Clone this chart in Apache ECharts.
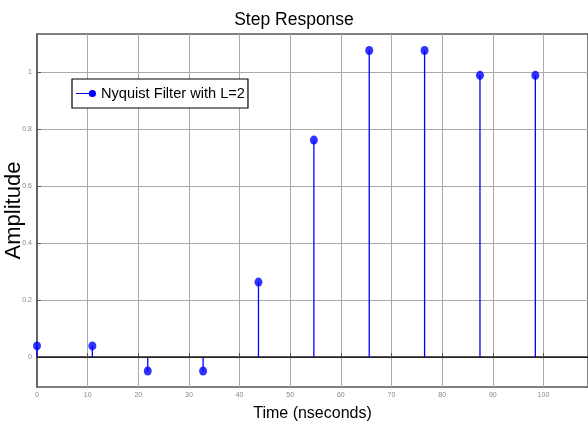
<!DOCTYPE html>
<html><head><meta charset="utf-8">
<script src="https://cdn.jsdelivr.net/npm/echarts@6/dist/echarts.min.js"></script>
<style>html,body{margin:0;padding:0;background:#fff}#c{width:588px;height:427px}</style>
</head><body><div id="c"></div>
<script>
const timeNs = [0, 10.93, 21.87, 32.8, 43.73, 54.67, 65.6, 76.53, 87.47, 98.4];
const amplitude = [0.039, 0.039, -0.049, -0.049, 0.263, 0.761, 1.075, 1.075, 0.988, 0.988];
const yTicks = [0, 0.2, 0.4, 0.6, 0.8, 1];
const seriesName = 'Nyquist Filter with L=2';

const pts = timeNs.map((t, i) => [t, amplitude[i]]);
const chart = echarts.init(document.getElementById('c'));
const FONT = '"Liberation Sans", Arial, sans-serif';
chart.setOption({
  animation: false,
  title: { text: 'Step Response', left: 'center', top: 6,
    textStyle: { fontFamily: FONT, fontWeight: 'normal', fontSize: 17.5, color: '#000' } },
  legend: {
    left: 72, top: 79, itemWidth: 20, itemHeight: 10, padding: [7, 3, 7, 4],
    borderColor: '#000', borderWidth: 1.2, backgroundColor: '#fff', itemGap: 2,
    icon: 'path://M0,4.4 L16,4.4 L16,5.6 L0,5.6 Z M16,1.5 A3.5,3.5 0 1,1 16,8.5 A3.5,3.5 0 1,1 16,1.5 Z',
    textStyle: { fontFamily: FONT, fontSize: 14.6, color: '#000', padding: [0, 0, 0, 0] },
    data: [{ name: seriesName, itemStyle: { color: '#0000ff' } }]
  },
  grid: { left: 37, right: 0, top: 34, bottom: 40, outerBoundsMode: 'none', containLabel: false,
    show: true, borderColor: '#555', borderWidth: 1.5 },
  xAxis: {
    type: 'value', min: 0, max: 108.8, interval: 10,
    name: 'Time (nseconds)', nameLocation: 'middle', nameGap: 19, nameMoveOverlap: false,
    nameTextStyle: { fontFamily: FONT, fontSize: 16, color: '#000' },
    axisLine: { show: true, lineStyle: { color: '#555', width: 2 } },
    axisTick: { inside: true, length: 4, lineStyle: { color: '#555' } },
    axisLabel: { fontFamily: FONT, fontSize: 7, color: '#888', margin: 5, showMaxLabel: false,
      formatter: v => (v > 105 ? '' : String(v)) },
    splitLine: { show: true, lineStyle: { color: '#aaa', width: 1 } }
  },
  yAxis: {
    type: 'value', min: -0.105, max: 1.133,
    name: 'Amplitude', nameLocation: 'middle', nameGap: 12, nameRotate: 90, nameMoveOverlap: false,
    nameTextStyle: { fontFamily: FONT, fontSize: 22, color: '#000' },
    axisLine: { show: true, lineStyle: { color: '#555', width: 1.5 } },
    axisTick: { show: true, inside: true, length: 4, customValues: yTicks, lineStyle: { color: '#555' } },
    axisLabel: { fontFamily: FONT, fontSize: 7, color: '#888', margin: 5, customValues: yTicks,
      formatter: v => String(Math.round(v * 10) / 10) },
    splitLine: { show: true, lineStyle: { color: '#aaa', width: 1 } }
  },
  series: [
    {
      type: 'custom', name: seriesName, data: pts, z: 3,
      renderItem: (params, api) => {
        const p0 = api.coord([api.value(0), 0]);
        const p1 = api.coord([api.value(0), api.value(1)]);
        return { type: 'line', shape: { x1: p0[0], y1: p0[1], x2: p1[0], y2: p1[1] },
          style: { stroke: '#0000ff', lineWidth: 1.3 } };
      },
      markLine: { silent: true, symbol: 'none', label: { show: false },
        lineStyle: { color: '#222', width: 1.2, type: 'solid' }, data: [{ yAxis: 0 }] }
    },
    {
      type: 'scatter', name: seriesName, data: pts, z: 4,
      symbol: 'circle', symbolSize: [8, 9], itemStyle: { color: '#0000ff' }
    }
  ]
});
</script></body></html>
